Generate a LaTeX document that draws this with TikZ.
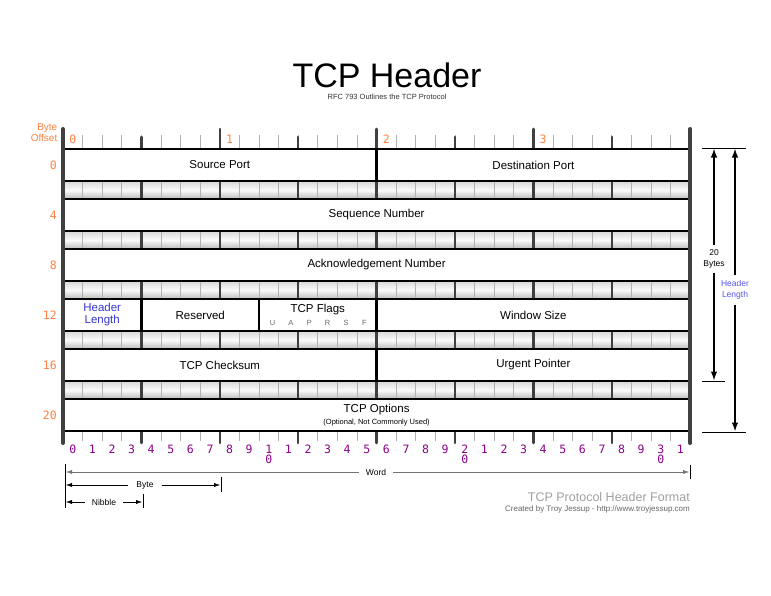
\documentclass[tikz,border=0pt]{standalone}
\usepackage{fontspec}
\setmainfont{Liberation Sans}
\newfontfamily\digitfont{DejaVu Sans Mono}
\usetikzlibrary{arrows,arrows.meta}
\definecolor{offsetorange}{RGB}{255,128,64}
\definecolor{bitpurple}{RGB}{140,0,140}
\definecolor{lenblue}{RGB}{55,55,205}
\definecolor{lightblue}{RGB}{85,85,235}
\newcommand{\fieldsize}{\fontsize{11.5pt}{12pt}\selectfont}
\newcommand{\notesize}{\fontsize{7.5pt}{9pt}\selectfont}
\newcommand{\legendsize}{\fontsize{8.5pt}{11pt}\selectfont}
\newcommand{\digitsize}{\digitfont\fontsize{11.5pt}{10pt}\selectfont}

\begin{document}
\begin{tikzpicture}[x=1pt,y=-1pt,
  field/.style={draw,line width=2.3pt,fill=white,minimum height=32.5pt,inner sep=0pt,font=\fieldsize},
  offset/.style={anchor=east,inner sep=0pt,text=offsetorange,font=\digitsize},
  bitnum/.style={inner sep=0pt,text=bitpurple,font=\digitsize},
  legend/.style={font=\legendsize,inner xsep=7pt,inner ysep=0pt},
  tip/.style={-{Latex[length=6pt,width=4pt]}},
  dim/.style={line width=1.4pt,-{Latex[length=9pt,width=6.5pt]}}]
\useasboundingbox (0,0) rectangle (771,595);
%draw title
\node[font=\fontsize{34pt}{36pt}\selectfont] (title) at (387,75) {TCP Header};
\node[font=\notesize,text=black!80] (subtitle) at (387,97) {RFC 793 Outlines the TCP Protocol};
%draw shaded bands between the rows
\foreach \y in {182,232,282,332,382}
  \shade[top color=gray!28,bottom color=gray!48,middle color=gray!4] (63,\y) rectangle (690,\y+16);
%draw bit ticks
\foreach \i in {1,...,31}
  \draw[gray!60,line width=0.7pt] (63+19.6*\i,135) -- (63+19.6*\i,441);
%draw nibble and byte ticks
\foreach \i in {4,12,20,28}
  \draw[black!75,line width=2.4pt,line cap=round] (63+19.6*\i,137) -- (63+19.6*\i,443);
\foreach \i in {8,16,24}
  \draw[black!75,line width=2.6pt,line cap=round] (63+19.6*\i,129) -- (63+19.6*\i,443);
%draw header fields
\node[field,minimum width=313.6pt] (srcport) at (219.8,165) {Source Port};
\node[field,minimum width=313.6pt] (dstport) at (533.4,165) {Destination Port};
\node[field,minimum width=627.2pt] (seqnum) at (376.6,215) {Sequence Number};
\node[field,minimum width=627.2pt] (acknum) at (376.6,265) {Acknowledgement Number};
\node[field,minimum width=78.4pt,align=center,text=lenblue] (hdrlen) at (102.2,315) {Header\\Length};
\node[field,minimum width=117.6pt] (reserved) at (200.2,315) {Reserved};
\node[field,minimum width=117.6pt] (flags) at (317.8,315) {};
\node[field,minimum width=313.6pt] (winsize) at (533.4,315) {Window Size};
\node[field,minimum width=313.6pt] (checksum) at (219.8,365) {TCP Checksum};
\node[field,minimum width=313.6pt] (urgent) at (533.4,365) {Urgent Pointer};
\node[field,minimum width=627.2pt] (options) at (376.6,415) {};
%labels inside flags and options
\node[font=\fieldsize] (flagname) at (317.8,310) {TCP Flags};
\foreach \f [count=\k from 0] in {U,A,P,R,S,F}
  \node[font=\notesize,text=black!60] (flag\f) at (272.5+18.4*\k,323) {\f};
\node[font=\fieldsize] (optname) at (376.6,410) {TCP Options};
\node[font=\notesize] (optnote) at (376.6,423) {(Optional, Not Commonly Used)};
%draw side bars
\foreach \x in {63,690.2}
  \draw[black!75,line width=4pt,line cap=round] (\x,129) -- (\x,443);
%byte offsets
\node[anchor=east,align=right,inner sep=0pt,text=offsetorange,font=\fontsize{10pt}{11pt}\selectfont] (byteoffset) at (57.5,133) {Byte\\Offset};
\foreach \b in {0,...,3}
  \node[inner sep=0pt,text=offsetorange,font=\digitsize] (byte\b) at (72.8+156.8*\b,139) {\b};
\foreach \r [count=\k from 0] in {0,4,8,12,16,20}
  \node[offset] (off\r) at (57,165+50*\k) {\r};
%bit numbers
\foreach \i in {0,...,31}{
  \pgfmathtruncatemacro{\d}{mod(\i,10)}
  \ifnum\d=0 \ifnum\i>0 \pgfmathtruncatemacro{\d}{\i/10}\fi\fi
  \node[bitnum] (bit\i) at (72.8+19.6*\i,449) {\d};}
\foreach \i in {10,20,30}
  \node[bitnum] (low\i) at (72.8+19.6*\i,459) {0};
%draw legend
\coordinate (wordL) at (66,472);
\coordinate (wordR) at (689,472);
\coordinate (byteL) at (66,485);
\coordinate (byteR) at (220,485);
\coordinate (nibbleL) at (66,502);
\coordinate (nibbleR) at (142,502);
\node[legend] (word) at (376,472) {Word};
\node[legend,inner xsep=8pt] (byte) at (145,485) {Byte};
\node[legend] (nibble) at (104,502) {Nibble};
\draw[tip,black!55] (word) -- (wordL);
\draw[tip,black!55] (word) -- (wordR);
\draw[tip] (byte) -- (byteL);
\draw[tip] (byte) -- (byteR);
\draw[tip] (nibble) -- (nibbleL);
\draw[tip] (nibble) -- (nibbleR);
\draw[line width=0.8pt] (65,464) -- (65,508);
\draw[line width=0.8pt] (690,465) -- (690,479);
\draw[line width=0.8pt] (221,477) -- (221,492);
\draw[line width=0.8pt] (143,494) -- (143,508);
%draw length arrows
\draw[line width=1pt] (702,148) -- (746,148);
\draw[line width=1pt] (702,381) -- (725,381);
\draw[line width=1pt] (702,432) -- (746,432);
\coordinate (bytestop) at (714,148.5);
\coordinate (bytesbot) at (714,380.5);
\coordinate (lentop) at (735,148.5);
\coordinate (lenbot) at (735,431.5);
\node[font=\legendsize,align=center,inner xsep=0pt,inner ysep=4pt] (twenty) at (714,259) {20\\Bytes};
\node[font=\legendsize,align=center,inner xsep=0pt,inner ysep=5pt,text=lightblue] (hdrlenR) at (735,290) {Header\\Length};
\draw[dim] (twenty) -- (bytestop);
\draw[dim] (twenty) -- (bytesbot);
\draw[dim] (hdrlenR) -- (lentop);
\draw[dim] (hdrlenR) -- (lenbot);
%credits
\node[anchor=east,inner sep=0pt,text=gray!75,font=\fontsize{12.5pt}{14pt}\selectfont] (credit) at (690,497) {TCP Protocol Header Format};
\node[anchor=east,inner sep=0pt,text=black!60,font=\fontsize{8pt}{9pt}\selectfont] (author) at (690,509) {Created by Troy Jessup - http://www.troyjessup.com};
\end{tikzpicture}
\end{document}
